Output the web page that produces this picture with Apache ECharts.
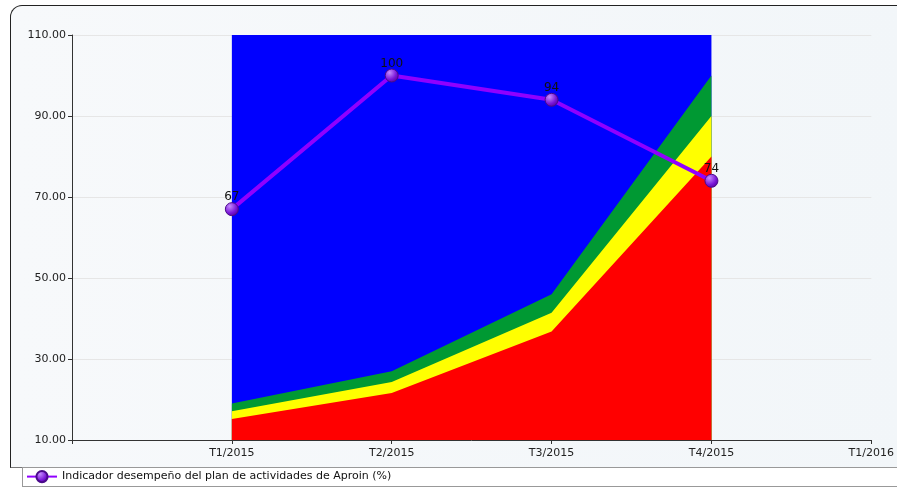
<!DOCTYPE html>
<html><head><meta charset="utf-8">
<script src="https://cdn.jsdelivr.net/npm/echarts@6/dist/echarts.min.js"></script>
<style>
html,body{margin:0;padding:0;background:#fff;width:897px;height:490px;overflow:hidden;}
#frame{position:absolute;left:10px;top:5px;width:900px;height:463px;border:1px solid #222;border-bottom-color:#777;border-radius:12px 0 0 0;background:linear-gradient(90deg,#f7f9fb,#f2f6f9);box-sizing:border-box;}
#legbox{position:absolute;left:22px;top:467px;width:890px;height:20px;border:1px solid #999;background:#fff;box-sizing:border-box;}
#c{position:absolute;left:0;top:0;width:897px;height:490px;}
</style></head><body>
<div id="frame"></div>
<div id="legbox"></div>
<div id="c"></div>
<script>
const categories = ['', 'T1/2015', 'T2/2015', 'T3/2015', 'T4/2015', 'T1/2016'];
const lineName = 'Indicador desempeño del plan de actividades de Aproin (%)';
const lineValues = [null, 67, 100, 94, 74, null];
const redTop = [null, 15.2, 21.6, 36.8, 80, null];
const yellowTop = [null, 17.1, 24.3, 41.4, 90, null];
const greenTop = [null, 19, 27, 46, 100, null];
const blueTop = [null, 110, 110, 110, 110, null];
const yTicks = {min: 10, max: 110, interval: 20};

const chart = echarts.init(document.getElementById('c'), null, {renderer: 'canvas'});
function band(name, data, color) {
  return {name: name, type: 'line', data: data, symbol: 'none', silent: true,
    lineStyle: {width: 0}, areaStyle: {color: color, opacity: 1, origin: 'start'},
    itemStyle: {color: color}, z: 1};
}
chart.setOption({
  animation: false,
  backgroundColor: 'transparent',
  textStyle: {fontFamily: 'DejaVu Sans'},
  grid: {left: 72, right: 24, top: 35, bottom: 50, containLabel: false},
  xAxis: {type: 'category', data: categories, boundaryGap: false,
    axisLine: {lineStyle: {color: '#333', width: 1}},
    axisTick: {show: true, length: 4, lineStyle: {color: '#333'}},
    axisLabel: {color: '#222', fontSize: 11, margin: 8},
    splitLine: {show: false}},
  yAxis: {type: 'value', min: yTicks.min, max: yTicks.max, interval: yTicks.interval,
    axisLine: {show: true, lineStyle: {color: '#333'}},
    axisTick: {show: true, length: 4, lineStyle: {color: '#333'}},
    axisLabel: {color: '#222', fontSize: 11, margin: 6, formatter: v => v.toFixed(2)},
    splitLine: {show: true, lineStyle: {color: '#e6e6e6', width: 1}}},
  legend: {data: [lineName], left: 24, top: 468, itemWidth: 30, itemHeight: 14, itemGap: 4,
    padding: [2, 2], textStyle: {color: '#111', fontSize: 11}},
  series: [
    band('blue', blueTop, '#0000ff'),
    band('green', greenTop, '#009933'),
    band('yellow', yellowTop, '#ffff00'),
    band('red', redTop, '#ff0000'),
    {name: lineName, type: 'line', data: lineValues, z: 5,
      symbol: 'circle', symbolSize: 13,
      lineStyle: {color: '#9000ff', width: 4},
      itemStyle: {color: new echarts.graphic.RadialGradient(0.35, 0.3, 0.8, [
        {offset: 0, color: '#c58cff'}, {offset: 0.6, color: '#7a16d8'}, {offset: 1, color: '#4b0090'}]),
        borderColor: '#4a0a8a', borderWidth: 1},
      label: {show: true, position: 'top', distance: -1, color: '#111', fontSize: 12}}
  ]
});
</script>
</body></html>
